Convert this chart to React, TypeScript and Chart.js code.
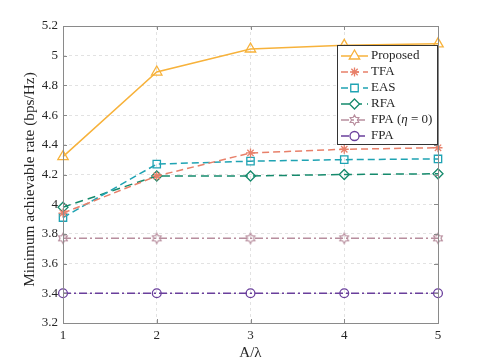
import React, { useEffect, useRef } from "react";
import { Chart, registerables } from "chart.js";

Chart.register(...registerables);

const xLabels = ["1", "2", "3", "4", "5"];
const proposed = [4.32, 4.89, 5.045, 5.07, 5.08];
const tfa = [3.94, 4.19, 4.345, 4.37, 4.38];
const eas = [3.91, 4.27, 4.29, 4.30, 4.305];
const rfa = [3.98, 4.19, 4.19, 4.20, 4.205];
const fpaEta0 = [3.77, 3.77, 3.77, 3.77, 3.77];
const fpa = [3.40, 3.40, 3.40, 3.40, 3.40];
const seriesNames = ["Proposed", "TFA", "EAS", "RFA", "FPA (η = 0)", "FPA"];
const yTitle = "Minimum achievable rate (bps/Hz)";

const FONT = "'Liberation Serif', 'Times New Roman', serif";

function makeHexagram(color: string, r: number): HTMLCanvasElement {
  const c = document.createElement("canvas");
  const s = Math.ceil(r * 2 + 4);
  c.width = s;
  c.height = s;
  const ctx = c.getContext("2d")!;
  drawHexagram(ctx, s / 2, s / 2, r, color);
  return c;
}

function drawHexagram(ctx: CanvasRenderingContext2D, cx: number, cy: number, r: number, color: string) {
  ctx.save();
  ctx.strokeStyle = color;
  ctx.lineWidth = 1.2;
  ctx.setLineDash([]);
  ctx.beginPath();
  for (let i = 0; i < 12; i++) {
    const a = -Math.PI / 2 + (i * Math.PI) / 6;
    const rr = i % 2 === 0 ? r : r * 0.58;
    const x = cx + rr * Math.cos(a);
    const y = cy + rr * Math.sin(a);
    if (i === 0) ctx.moveTo(x, y);
    else ctx.lineTo(x, y);
  }
  ctx.closePath();
  ctx.stroke();
  ctx.restore();
}

function drawMarker(ctx: CanvasRenderingContext2D, style: string, x: number, y: number, r: number, color: string) {
  ctx.save();
  ctx.strokeStyle = color;
  ctx.fillStyle = "#ffffff";
  ctx.lineWidth = 1.3;
  ctx.setLineDash([]);
  ctx.beginPath();
  if (style === "triangle") {
    ctx.moveTo(x, y - r);
    ctx.lineTo(x + r * 0.87, y + r * 0.5);
    ctx.lineTo(x - r * 0.87, y + r * 0.5);
    ctx.closePath();
    ctx.fill();
    ctx.stroke();
  } else if (style === "star") {
    for (let i = 0; i < 4; i++) {
      const a = (i * Math.PI) / 4;
      ctx.moveTo(x - r * Math.cos(a), y - r * Math.sin(a));
      ctx.lineTo(x + r * Math.cos(a), y + r * Math.sin(a));
    }
    ctx.stroke();
  } else if (style === "rect") {
    ctx.rect(x - r * 0.75, y - r * 0.75, r * 1.5, r * 1.5);
    ctx.fill();
    ctx.stroke();
  } else if (style === "rectRot") {
    ctx.moveTo(x, y - r);
    ctx.lineTo(x + r, y);
    ctx.lineTo(x, y + r);
    ctx.lineTo(x - r, y);
    ctx.closePath();
    ctx.fill();
    ctx.stroke();
  } else if (style === "hex") {
    ctx.restore();
    drawHexagram(ctx, x, y, r, color);
    return;
  } else {
    ctx.arc(x, y, r, 0, Math.PI * 2);
    ctx.fill();
    ctx.stroke();
  }
  ctx.restore();
}

const colors = ["#F7B23B", "#E8806A", "#1FA3B3", "#158A6C", "#B88E9E", "#6A3F9C"];
const dashes: number[][] = [[], [7, 4], [7, 4], [8, 5], [8, 3, 2, 3], [8, 3, 2, 3]];
const legendStyles = ["triangle", "star", "rect", "rectRot", "hex", "circle"];
const legendR = [6, 4.5, 5, 5, 5, 4.5];

const boxPlugin = {
  id: "matlabBox",
  afterDraw(chart: any) {
    const ctx: CanvasRenderingContext2D = chart.ctx;
    const { left, right, top, bottom } = chart.chartArea;
    ctx.save();
    ctx.strokeStyle = "#8a8a8a";
    ctx.lineWidth = 1;
    ctx.setLineDash([]);
    ctx.strokeRect(Math.round(left) + 0.5, Math.round(top) + 0.5, Math.round(right - left), Math.round(bottom - top));
    const ys = chart.scales.y;
    const xs = chart.scales.x;
    ctx.beginPath();
    ys.ticks.forEach((t: any) => {
      const py = Math.round(ys.getPixelForValue(t.value)) + 0.5;
      ctx.moveTo(left, py);
      ctx.lineTo(left + 4, py);
      ctx.moveTo(right, py);
      ctx.lineTo(right - 4, py);
    });
    xs.ticks.forEach((t: any, i: number) => {
      const px = Math.round(xs.getPixelForTick(i)) + 0.5;
      ctx.moveTo(px, bottom);
      ctx.lineTo(px, bottom - 4);
      ctx.moveTo(px, top);
      ctx.lineTo(px, top + 4);
    });
    ctx.stroke();

    // y title
    ctx.save();
    ctx.translate(30, 179.5);
    ctx.rotate(-Math.PI / 2);
    ctx.font = `15.3px ${FONT}`;
    ctx.fillStyle = "#262626";
    ctx.textAlign = "center";
    ctx.textBaseline = "middle";
    ctx.fillText(yTitle, 0, 0);
    ctx.restore();

    // legend
    const lx = 337.5, ly = 45.5, lw = 100, lh = 99;
    ctx.fillStyle = "#ffffff";
    ctx.fillRect(lx, ly, lw, lh);
    ctx.strokeStyle = "#333333";
    ctx.strokeRect(lx, ly, lw, lh);
    ctx.font = `13px ${FONT}`;
    ctx.textBaseline = "middle";
    ctx.textAlign = "left";
    seriesNames.forEach((name, i) => {
      const cy = 56 + i * 16;
      ctx.save();
      ctx.strokeStyle = colors[i];
      ctx.lineWidth = 1.5;
      ctx.setLineDash(dashes[i]);
      ctx.beginPath();
      ctx.moveTo(341, cy);
      ctx.lineTo(368, cy);
      ctx.stroke();
      ctx.restore();
      drawMarker(ctx, legendStyles[i], 354.5, cy, legendR[i], colors[i]);
      ctx.fillStyle = "#262626";
      if (i === 4) {
        let x = 371;
        const parts: [string, boolean][] = [["FPA (", false], ["η", true], [" = 0)", false]];
        parts.forEach(([s, it]) => {
          ctx.font = `${it ? "italic " : ""}13px ${FONT}`;
          ctx.fillText(s, x, cy);
          x += ctx.measureText(s).width;
        });
        ctx.font = `13px ${FONT}`;
      } else {
        ctx.fillText(name, 371, cy);
      }
    });
    ctx.restore();
  },
};

export default function App() {
  const ref = useRef<HTMLCanvasElement>(null);
  useEffect(() => {
    document.body.style.margin = "0";
    const hex = makeHexagram(colors[4], 5);
    const data = [proposed, tfa, eas, rfa, fpaEta0, fpa];
    const pointStyles: any[] = ["triangle", "star", "rect", "rectRot", hex, "circle"];
    const radii = [6, 4.5, 5.2, 5, 5, 4.4];
    const chart = new Chart(ref.current!, {
      type: "line",
      data: {
        labels: xLabels,
        datasets: data.map((d, i) => ({
          label: seriesNames[i],
          data: d,
          borderColor: colors[i],
          backgroundColor: "#ffffff",
          borderWidth: 1.5,
          borderDash: dashes[i],
          pointStyle: pointStyles[i],
          pointRadius: radii[i],
          pointBorderWidth: 1.3,
          pointBorderColor: colors[i],
          pointBackgroundColor: "rgba(255,255,255,0)",
          tension: 0,
          fill: false,
        })),
      },
      options: {
        animation: false,
        responsive: false,
        layout: { padding: { left: 0, right: 47, top: 26, bottom: 0 } },
        plugins: { legend: { display: false }, tooltip: { enabled: false } },
        scales: {
          x: {
            type: "category",
            offset: false,
            grid: { color: "#e2e2e2", drawTicks: false } as any,
            border: { display: false, dash: [3, 3] },
            ticks: { font: { family: FONT, size: 13 }, color: "#262626", padding: 5 },
            title: { display: true, text: "A/λ", font: { family: FONT, size: 15 }, color: "#262626", padding: { top: 0, bottom: 1 } },
            afterFit: (s: any) => { s.height = 40; },
          },
          y: {
            min: 3.2,
            max: 5.2,
            grid: { color: "#e2e2e2", drawTicks: false } as any,
            border: { display: false, dash: [3, 3] },
            ticks: {
              stepSize: 0.2,
              font: { family: FONT, size: 13 },
              color: "#262626",
              padding: 5,
              callback: (v: any) => String(Math.round(Number(v) * 10) / 10),
            },
            title: { display: false },
            afterFit: (s: any) => { s.width = 63; },
          },
        },
      },
      plugins: [boxPlugin],
    } as any);
    return () => chart.destroy();
  }, []);
  return (
    <div style={{ position: "absolute", left: 0, top: 0, width: 485, height: 363, background: "#fff" }}>
      <canvas ref={ref} width={485} height={363} style={{ width: 485, height: 363 }} />
    </div>
  );
}
